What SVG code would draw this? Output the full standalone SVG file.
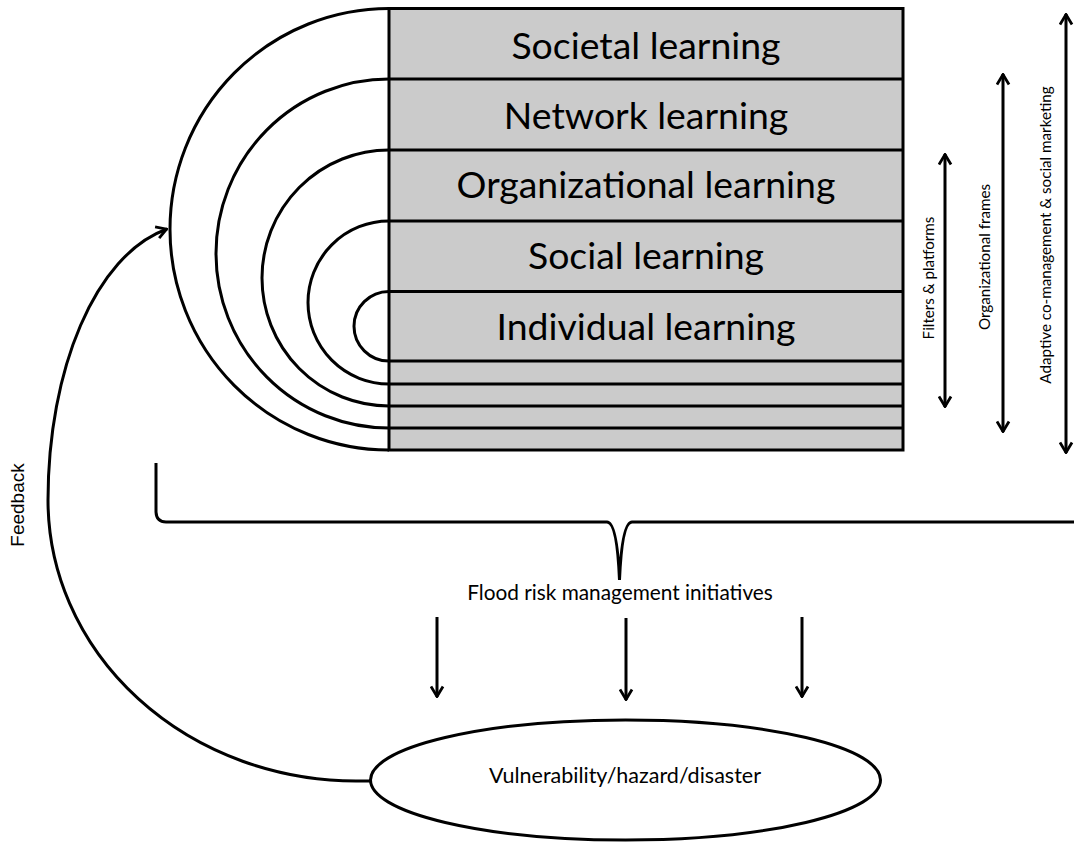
<svg xmlns="http://www.w3.org/2000/svg" width="1074" height="843" viewBox="0 0 1074 843">
  <style>
    .ln { fill: none; stroke: #000; stroke-width: 3; }
    .lvl { fill: #cbcbcb; stroke: #000; stroke-width: 3; }
    .big { font-family: Lato, "Liberation Sans", sans-serif; font-size: 37.4px; fill: #000; text-anchor: middle; }
    .mid { font-family: Lato, "Liberation Sans", sans-serif; font-size: 20.8px; fill: #000; text-anchor: middle; }
    .sm { font-family: Lato, "Liberation Sans", sans-serif; font-size: 15.2px; fill: #000; text-anchor: middle; }
    .fb { font-family: "Liberation Sans", Arial, sans-serif; font-size: 19px; fill: #000; text-anchor: middle; }
  </style>
  <defs>
    <marker id="head" viewBox="0 0 13 15" refX="12" refY="7.5" markerWidth="13" markerHeight="15" markerUnits="userSpaceOnUse" orient="auto-start-reverse">
      <path d="M1.5,1.5 L11.5,7.5 L1.5,13.5" fill="none" stroke="#000" stroke-width="2.8" stroke-linejoin="miter"/>
    </marker>
  </defs>

  <!-- stacked learning levels -->
  <g id="levels">
    <rect class="lvl" x="389" y="8.5" width="514" height="441.5"/>
    <path class="ln" d="M389,79H903 M389,150H903 M389,221H903 M389,291.5H903 M389,361H903 M389,384H903 M389,406H903 M389,428H903"/>
  </g>
  <g id="societal"><text class="big" x="646" y="59">Societal learning</text></g>
  <g id="network"><text class="big" x="646" y="129">Network learning</text></g>
  <g id="organizational"><text class="big" x="646" y="198">Organizational learning</text></g>
  <g id="social"><text class="big" x="646" y="269">Social learning</text></g>
  <g id="individual"><text class="big" x="646" y="340">Individual learning</text></g>

  <!-- nested half-rings -->
  <g id="rings">
    <path class="ln" d="M389,8.5 A219,220.75 0 0 0 389,450"/>
    <path class="ln" d="M389,79 A173,174.5 0 0 0 389,428"/>
    <path class="ln" d="M389,150 A127,128 0 0 0 389,406"/>
    <path class="ln" d="M389,221 A81,81.5 0 0 0 389,384"/>
    <path class="ln" d="M389,291.5 A35,34.75 0 0 0 389,361"/>
  </g>

  <!-- scale labels on the right -->
  <g id="filters"><text class="sm" transform="translate(934,278) rotate(-90)">Filters &amp; platforms</text></g>
  <g id="frames"><text class="sm" transform="translate(990,257) rotate(-90)">Organizational frames</text></g>
  <g id="adaptive"><text class="sm" transform="translate(1051,235) rotate(-90)">Adaptive co-management &amp; social marketing</text></g>

  <g id="initiatives"><text class="mid" x="620" y="600">Flood risk management initiatives</text></g>

  <g id="outcome">
    <ellipse class="ln" cx="625.5" cy="780" rx="255" ry="60"/>
    <text class="mid" x="625" y="783" style="font-size:21.5px">Vulnerability/hazard/disaster</text>
  </g>

  <g id="feedback-label"><text class="fb" transform="translate(24,505) rotate(-90)">Feedback</text></g>

  <!-- connectors -->
  <g id="connectors">
    <line class="ln" x1="945" y1="154" x2="945" y2="407" marker-start="url(#head)" marker-end="url(#head)"/>
    <line class="ln" x1="1003" y1="74" x2="1003" y2="432" marker-start="url(#head)" marker-end="url(#head)"/>
    <line class="ln" x1="1066" y1="14" x2="1066" y2="453" marker-start="url(#head)" marker-end="url(#head)"/>

    <path class="ln" d="M156,463 L156,512 Q156.5,522 166,522 L607,522 Q617,522 619.5,580 Q622,522 632,522 L1076,522"/>

    <line class="ln" x1="437" y1="617" x2="437" y2="697" marker-end="url(#head)"/>
    <line class="ln" x1="626" y1="618" x2="626" y2="700" marker-end="url(#head)"/>
    <line class="ln" x1="802" y1="617" x2="802" y2="697" marker-end="url(#head)"/>

    <path class="ln" d="M370.5,781 L356,781 A308,281 0 0 1 48,500 C48,370 95,255 167,229" marker-end="url(#head)"/>
  </g>
</svg>
